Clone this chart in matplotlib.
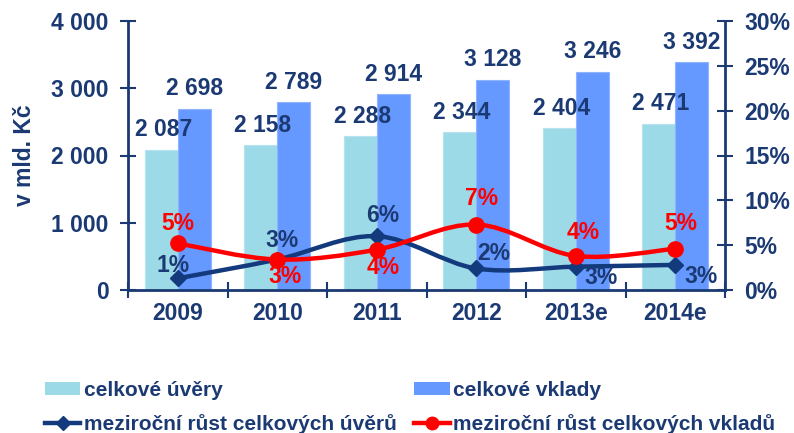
import matplotlib
matplotlib.use("Agg")
import matplotlib.pyplot as plt
from matplotlib.path import Path
from matplotlib.patches import PathPatch, Patch
from matplotlib.lines import Line2D
import numpy as np

# ---- data ----
years = ["2009", "2010", "2011", "2012", "2013e", "2014e"]
loans = [2087, 2158, 2288, 2344, 2404, 2471]
deposits = [2698, 2789, 2914, 3128, 3246, 3392]
loan_growth = [1.3, 3.4, 6.0, 2.4, 2.6, 2.8]
deposit_growth = [5.2, 3.4, 4.5, 7.3, 3.8, 4.6]
loan_growth_labels = ["1%", "3%", "6%", "2%", "3%", "3%"]
deposit_growth_labels = ["5%", "3%", "4%", "7%", "4%", "5%"]
left_ticks = [0, 1000, 2000, 3000, 4000]
right_ticks = [0, 5, 10, 15, 20, 25, 30]

# ---- styles ----
NAVY = "#1B3A73"
LINE_NAVY = "#123A7C"
RED = "#FF0000"
LOAN_C = "#9DDAE7"
DEP_C = "#6699FF"
FONT = "Liberation Sans"
FS = 16.5

# label offsets in pixels (dx, dy) relative to points
loan_off = [(-5, 13), (5, 19), (6, 21), (18, 15), (25, -11), (26, -12)]
dep_off = [(0, 20), (8, -17), (6, -18), (5, 26), (7, 23), (6, 25)]

plt.rcParams["font.family"] = [FONT, "DejaVu Sans"]
plt.rcParams["font.weight"] = "bold"

W, H = 794, 433
fig = plt.figure(figsize=(W / 100, H / 100), dpi=100)
ax = fig.add_axes([128 / W, 1 - 290 / H, (725 - 128) / W, (290 - 21) / H])
ax2 = ax.twinx()

x = np.arange(len(years))
bw = 1 / 3
ax.bar(x - bw / 2, loans, width=bw, color=LOAN_C, edgecolor="#B5E4EE", linewidth=0.8, zorder=2)
ax.bar(x + bw / 2, deposits, width=bw, color=DEP_C, edgecolor="#8FB4FF", linewidth=0.8, zorder=2)

def fmt(v):
    return f"{v:,}".replace(",", " ")

for xi, v in zip(x, loans):
    ax.annotate(fmt(v), (xi - bw / 2, v), xytext=(1.5, 6), textcoords="offset points",
                ha="center", va="bottom", fontsize=FS, color=NAVY, fontweight="bold", zorder=5)
for xi, v in zip(x, deposits):
    ax.annotate(fmt(v), (xi + bw / 2, v), xytext=(0, 6), textcoords="offset points",
                ha="center", va="bottom", fontsize=FS, color=NAVY, fontweight="bold", zorder=5)

ax.set_xlim(-0.5, len(years) - 0.5)
ax.set_ylim(0, 4000)
ax2.set_ylim(0, 30)
ax.set_yticks(left_ticks)
ax.set_yticklabels([fmt(t) for t in left_ticks])
ax2.set_yticks(right_ticks)
ax2.set_yticklabels([f"{t}%" for t in right_ticks])
ax.set_xticks(np.arange(-0.5, len(years) + 0.5, 1.0))
ax.set_xticklabels([])
ax.set_xticks(x, minor=True)
ax.set_xticklabels(years, minor=True)
ax.tick_params(axis="x", which="minor", length=0, pad=9, labelsize=FS, labelcolor=NAVY)
ax.tick_params(axis="x", which="major", direction="inout", length=12, width=1.5, color=NAVY)
ax.tick_params(axis="y", direction="inout", length=12, width=1.5, color=NAVY,
               labelsize=FS, labelcolor=NAVY, pad=8)
ax2.tick_params(axis="y", direction="inout", length=12, width=1.5, color=NAVY,
                labelsize=FS, labelcolor=NAVY, pad=8)
for a in (ax, ax2):
    for s in a.spines.values():
        s.set_color(NAVY)
        s.set_linewidth(2)
    a.spines["top"].set_visible(False)
ax2.spines["left"].set_visible(False)
ax2.spines["bottom"].set_visible(False)
ax.spines["right"].set_visible(False)

ax.set_ylabel("v mld. Kč", fontsize=FS, color=NAVY, fontweight="bold")
ax.yaxis.set_label_coords(-(128 - 36) / (725 - 128), 0.5)

def smooth_path(xs, ys):
    pts = np.column_stack([xs, ys]).astype(float)
    n = len(pts)
    verts = [pts[0]]
    codes = [Path.MOVETO]
    for i in range(n - 1):
        p0 = pts[i - 1] if i > 0 else pts[i]
        p1 = pts[i]
        p2 = pts[i + 1]
        p3 = pts[i + 2] if i + 2 < n else pts[i + 1]
        c1 = p1 + (p2 - p0) / 6
        c2 = p2 - (p3 - p1) / 6
        verts += [c1, c2, p2]
        codes += [Path.CURVE4] * 3
    return Path(verts, codes)

ax2.add_patch(PathPatch(smooth_path(x, loan_growth), fill=False, edgecolor=LINE_NAVY,
                        linewidth=3.2, zorder=3, capstyle="round", joinstyle="round"))
ax2.add_patch(PathPatch(smooth_path(x, deposit_growth), fill=False, edgecolor=RED,
                        linewidth=3.2, zorder=4, capstyle="round", joinstyle="round"))
ax2.plot(x, loan_growth, linestyle="none", marker="D", markersize=8.5, color=LINE_NAVY, zorder=5)
ax2.plot(x, deposit_growth, linestyle="none", marker="o", markersize=11, color=RED, zorder=6)

for xi, v, lab, (dx, dy) in zip(x, loan_growth, loan_growth_labels, loan_off):
    ax2.annotate(lab, (xi, v), xytext=(dx * 0.72, dy * 0.72), textcoords="offset points",
                 ha="center", va="center", fontsize=FS, color=NAVY, fontweight="bold", zorder=7)
for xi, v, lab, (dx, dy) in zip(x, deposit_growth, deposit_growth_labels, dep_off):
    ax2.annotate(lab, (xi, v), xytext=(dx * 0.72, dy * 0.72), textcoords="offset points",
                 ha="center", va="center", fontsize=FS, color=RED, fontweight="bold", zorder=7)

handles = [
    Patch(facecolor=LOAN_C, edgecolor="none"),
    Line2D([], [], color=LINE_NAVY, linewidth=3.2, marker="D", markersize=7),
    Patch(facecolor=DEP_C, edgecolor="none"),
    Line2D([], [], color=RED, linewidth=3.2, marker="o", markersize=9),
]
labels = ["celkové úvěry", "meziroční růst celkových úvěrů",
          "celkové vklady", "meziroční růst celkových vkladů"]
leg = fig.legend(handles, labels, ncol=2, loc="upper left",
                 bbox_to_anchor=(45 / W, 1 - 381 / H), frameon=False,
                 prop={"family": FONT, "weight": "bold", "size": 15},
                 handlelength=1.7, handleheight=0.6, handletextpad=0.15,
                 columnspacing=0.85, borderpad=0, borderaxespad=0, labelspacing=0.65)
for t in leg.get_texts():
    t.set_color(NAVY)

fig.savefig("out.png", dpi=100)
